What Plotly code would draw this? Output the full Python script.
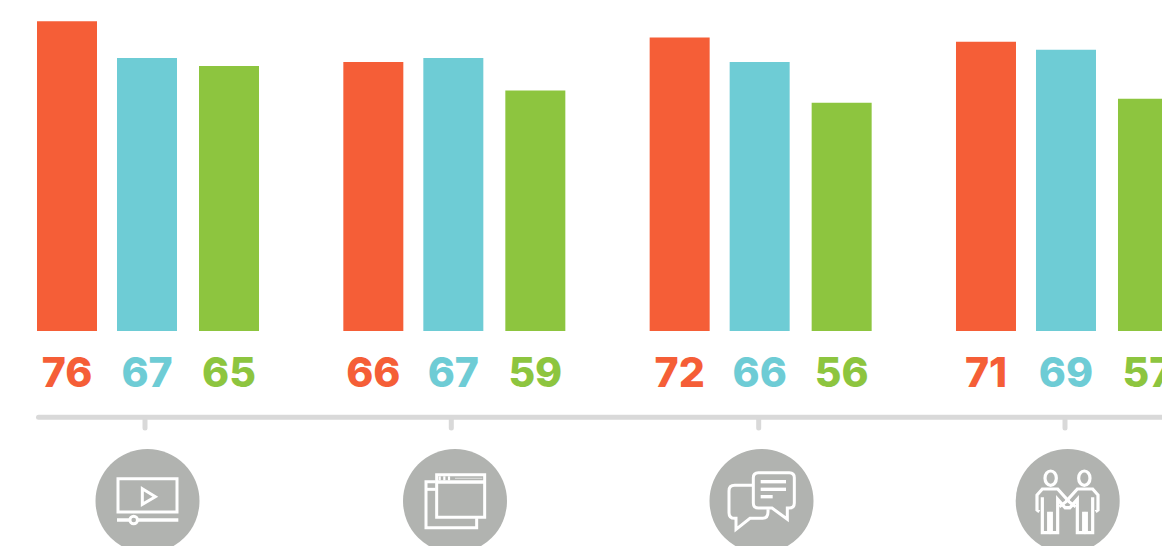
import plotly.graph_objects as go

# ---- data ----
groups = [0, 1, 2, 3]
series_a = [76, 66, 72, 71]
series_b = [67, 67, 66, 69]
series_c = [65, 59, 56, 57]

RED, CYAN, GREEN = "#F55E37", "#6ECCD5", "#8DC53F"
RULE, DISC = "#D9D9D9", "#B1B3B0"
W, H = 1162, 546
PX_PER_GROUP = 306.33
PX_PER_UNIT = 4.075
X0, Y0 = 145, 331
BAR = 60
OFFS = (-108, -28, 54)
LABEL_Y_PX = 376.5

fig = go.Figure()
for vals, col, off in zip((series_a, series_b, series_c), (RED, CYAN, GREEN), OFFS):
    fig.add_trace(go.Bar(x=groups, y=vals, width=BAR / PX_PER_GROUP, offset=off / PX_PER_GROUP,
                         marker=dict(color=col, line=dict(width=0)), showlegend=False, hoverinfo="skip"))
    fig.add_trace(go.Scatter(x=[g + (off + BAR / 2) / PX_PER_GROUP for g in groups],
                             y=[(Y0 - LABEL_Y_PX) / PX_PER_UNIT] * 4,
                             text=[str(v) for v in vals], mode="text", textposition="middle center",
                             textfont=dict(family="Inter", size=41, color=col, weight=800),
                             showlegend=False, hoverinfo="skip", cliponaxis=False))
fig.add_trace(go.Scatter(x=[0], y=[0], xaxis="x2", yaxis="y2", mode="markers",
                         marker=dict(opacity=0), showlegend=False, hoverinfo="skip"))

shapes = []
def path(d, stroke="white", width=3.0, fill=None):
    s = dict(type="path", path=d, xref="x2", yref="y2", line=dict(color=stroke, width=width))
    if fill:
        s["fillcolor"] = fill
    shapes.append(s)

def circle(cx, cy, r, fill, stroke=None, width=0):
    shapes.append(dict(type="circle", xref="x2", yref="y2", x0=cx - r, x1=cx + r, y0=cy - r, y1=cy + r,
                       fillcolor=fill, line=dict(color=stroke or fill, width=width)))

def poly(ox, oy, pts, close=False, **kw):
    d = "M" + " L".join(f"{ox + x / 3:.2f},{oy + y / 3:.2f}" for x, y in pts)
    path(d + (" Z" if close else ""), **kw)

# rule with rounded ends
path("M38.5,414.8 L1170,414.8 L1170,419.8 L38.5,419.8 Q36,419.8 36,417.3 Q36,414.8 38.5,414.8 Z",
     stroke=RULE, width=0, fill=RULE)
for tx in (145, 451.3, 758.7, 1065):
    path(f"M{tx-2.5},419 L{tx+2.5},419 L{tx+2.5},428 Q{tx+2.5},430.5 {tx},430.5 Q{tx-2.5},430.5 {tx-2.5},428 Z",
         stroke=RULE, width=0, fill=RULE)

for cx in (147.5, 455, 761.5, 1067.7):
    circle(cx, 501, 52, DISC)

# icon 1: video player
ox, oy = 85, 410
poly(ox, oy, [(99, 206), (276, 206), (276, 306), (99, 306)], close=True)
poly(ox, oy, [(172, 236), (211, 260), (172, 283)], close=True)
poly(ox, oy, [(96, 330), (280, 330)], width=3.4)
circle(133.7, 520, 3.8, DISC, "white", 3)

# icon 2: browser windows
ox, oy = 395, 410
poly(ox, oy, [(125, 194), (269, 194), (269, 322), (125, 322)], close=True)
poly(ox, oy, [(125, 216), (269, 216)], width=3.4)
poly(ox, oy, [(180, 205), (262, 205)], width=1.2, stroke="#D8D9D7")
for x in (134, 148, 162):
    poly(ox, oy, [(x, 199), (x, 211)], width=2.2)
poly(ox, oy, [(122, 215), (93, 215), (93, 353), (245, 353), (245, 325)])
poly(ox, oy, [(93, 238), (122, 238)], width=3)

# icon 3: speech bubbles
ox, oy = 700, 410
f = lambda x, y: f"{ox + x / 3:.2f},{oy + y / 3:.2f}"
path("M" + f(175, 188) + " L" + f(268, 188) + " Q" + f(283, 188) + " " + f(283, 203)
     + " L" + f(283, 279) + " Q" + f(283, 294) + " " + f(268, 294) + " L" + f(262, 294)
     + " L" + f(262, 328) + " L" + f(216, 294) + " L" + f(175, 294) + " Q" + f(160, 294) + " " + f(160, 279)
     + " L" + f(160, 203) + " Q" + f(160, 188) + " " + f(175, 188) + " Z")
for y, x2 in ((215, 258), (238, 258), (260, 218)):
    poly(ox, oy, [(182, y), (x2, y)], width=3.4)
path("M" + f(157, 226) + " L" + f(104, 226) + " Q" + f(87, 226) + " " + f(87, 243)
     + " L" + f(87, 308) + " Q" + f(87, 325) + " " + f(104, 325) + " L" + f(108, 325)
     + " L" + f(108, 358) + " L" + f(150, 325) + " L" + f(188, 325) + " Q" + f(204, 325) + " " + f(204, 306)
     + " L" + f(204, 298))

# icon 4: two people
ox, oy = 1005, 410
for hx in (137, 238):
    shapes.append(dict(type="circle", xref="x2", yref="y2",
                       x0=ox + (hx - 17) / 3, x1=ox + (hx + 17) / 3,
                       y0=oy + 183 / 3, y1=oy + 226 / 3,
                       line=dict(color="white", width=3.2)))
for m in (lambda x: x, lambda x: 375 - x):
    poly(ox, oy, [(m(103), 305), (m(96), 300), (m(96), 255), (m(112), 237), (m(158), 237),
                  (m(192), 275), (m(212), 290)], width=3.2)
    poly(ox, oy, [(m(112), 262), (m(112), 368), (m(131), 368), (m(131), 305)], width=3.2)
    poly(ox, oy, [(m(139), 305), (m(139), 368), (m(158), 368), (m(158), 268), (m(180), 293), (m(197), 293)], width=3.2)

fig.update_layout(
    width=W, height=H, margin=dict(l=0, r=0, t=0, b=0, pad=0),
    paper_bgcolor="white", plot_bgcolor="white", shapes=shapes, barmode="overlay",
    xaxis=dict(range=[-X0 / PX_PER_GROUP, (W - X0) / PX_PER_GROUP], visible=False, domain=[0, 1]),
    yaxis=dict(range=[(Y0 - H) / PX_PER_UNIT, Y0 / PX_PER_UNIT], visible=False, domain=[0, 1]),
    xaxis2=dict(range=[0, W], visible=False, overlaying="x", anchor="y2"),
    yaxis2=dict(range=[H, 0], visible=False, overlaying="y", anchor="x2"),
)
fig.write_html("out.html", config=dict(displayModeBar=False),
               post_script="document.body.style.margin='0';document.body.style.overflow='hidden';")
